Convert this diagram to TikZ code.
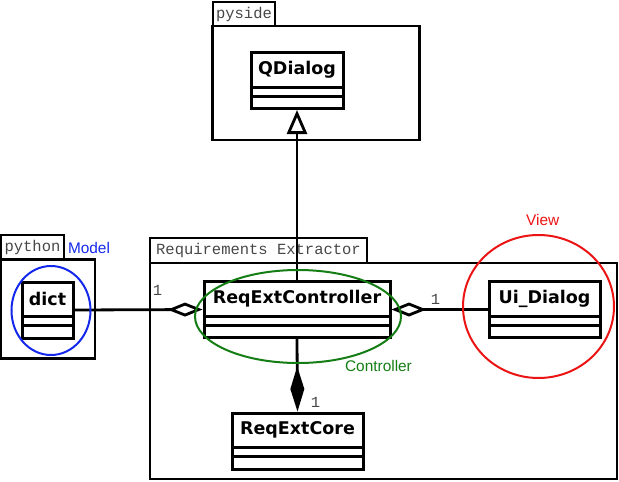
\documentclass[tikz,border=0pt]{standalone}
\usepackage{fontspec}
\setmainfont{DejaVu Sans}
\newfontfamily\labfont{Liberation Sans}
\newfontfamily\monofont{Liberation Mono}
\usetikzlibrary{arrows.meta,calc,shapes.geometric}
\definecolor{lblue}{RGB}{20,40,235}
\definecolor{lgreen}{RGB}{20,125,20}
\definecolor{lred}{RGB}{235,20,20}
\definecolor{tabgray}{RGB}{70,70,70}
\tikzset{
  pkgbody/.style={draw=black, line width=2.8pt, inner sep=0pt},
  pkgtab/.style={draw=black, line width=2.4pt, inner sep=0pt, font=\monofont\fontsize{15.5}{16}\selectfont, text=tabgray},
  classframe/.style={draw=black, line width=3pt, inner sep=0pt, minimum height=56pt, fill=white},
  classname/.style={font=\bfseries\fontsize{17.5}{18}\selectfont, inner sep=0pt},
  mult/.style={font=\monofont\fontsize{15.5}{16}\selectfont, text=tabgray, inner sep=0pt},
  rolelabel/.style={font=\labfont\fontsize{15.4}{16}\selectfont, inner sep=0pt},
  conn/.style={draw=black, line width=2.8pt},
  grp/.style={line width=2pt}
}
\newcommand{\umlcls}[5]{% name, cx, cy, width, text
  \node[classframe, minimum width=#4pt] (#1) at (#2,#3) {};
  \node[classname] (#1-name) at ($(#1.north)+(0,18.5)$) {#5};
  \draw[line width=3pt] ($(#1.north west)+(0,36)$) -- ($(#1.north east)+(0,36)$);
  \draw[line width=3pt] ($(#1.north west)+(0,45)$) -- ($(#1.north east)+(0,45)$);
}
\begin{document}
\begin{tikzpicture}[x=1pt,y=-1pt]
\useasboundingbox (0,0) rectangle (619,482);
% packages
\node[pkgbody, minimum width=207pt, minimum height=114pt] (pyside) at (316.3,83) {};
\node[pkgtab, minimum width=62pt, minimum height=24pt] (pysidetab) at (244,14) {pyside};
\node[pkgbody, minimum width=94pt, minimum height=99pt] (python) at (48,308.7) {};
\node[pkgtab, minimum width=63pt, minimum height=24pt] (pythontab) at (32.5,247) {python};
\node[pkgbody, minimum width=467pt, minimum height=216pt] (reqpkg) at (383.5,371) {};
\node[pkgtab, minimum width=217pt, minimum height=25pt] (reqtab) at (258.5,250.5) {Requirements Extractor};
% classes
\umlcls{qd}{297}{80.5}{92}{QDialog}
\umlcls{dict}{47.5}{310}{51}{dict}
\umlcls{rec}{297}{309.5}{186}{ReqExtController}
\umlcls{core}{297.5}{441}{131}{ReqExtCore}
\umlcls{ui}{544.5}{309.5}{111}{Ui\_Dialog}
% connectors
\draw[conn, -{Triangle[open, length=24pt, width=20pt]}] (rec.north) -- (qd.south);
\draw[conn, -{Diamond[open, length=35pt, width=14pt]}] (dict.east) -- (rec.west);
\draw[conn, -{Diamond[open, length=35pt, width=14pt]}] (ui.west) -- (rec.east);
\draw[conn, -{Diamond[length=45pt, width=14pt]}] (rec.south) -- (core.north);
% multiplicities
\node[mult] (m1) at (157.5,290) {1};
\node[mult] (m2) at (435.5,299.5) {1};
\node[mult] (m3) at (315.5,402.5) {1};
% MVC groups
\node[grp, draw=lblue, ellipse, minimum width=79pt, minimum height=89pt, inner sep=0pt] (model) at (51,310.5) {};
\node[grp, draw=lgreen, ellipse, minimum width=206pt, minimum height=93pt, inner sep=0pt] (controller) at (298,316.5) {};
\node[grp, draw=lred, ellipse, minimum width=151pt, minimum height=143pt, inner sep=0pt] (view) at (538.5,306.5) {};
\node[rolelabel, text=lblue] (modellbl) at (89,247.5) {Model};
\node[rolelabel, text=lgreen] (ctrllbl) at (378.5,366) {Controller};
\node[rolelabel, text=lred] (viewlbl) at (542.7,220) {View};
\end{tikzpicture}
\end{document}
